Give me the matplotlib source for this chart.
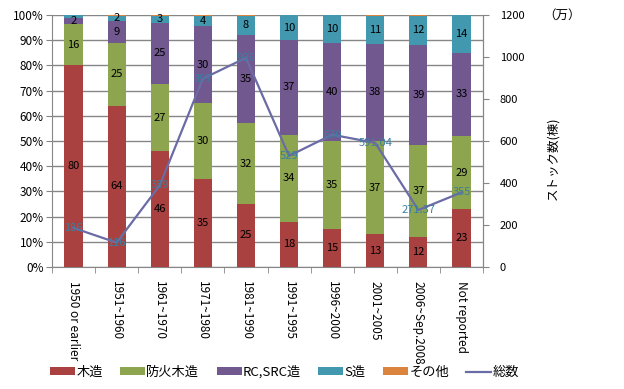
import matplotlib
matplotlib.use("Agg")
import matplotlib.pyplot as plt
import numpy as np

plt.rcParams['font.family'] = ['Noto Sans CJK JP', 'DejaVu Sans']

categories = ["1950 or earlier", "1951~1960", "1961~1970", "1971~1980", "1981~1990",
              "1991~1995", "1996~2000", "2001~2005", "2006~Sep.2008", "Not reported"]
wood = [80, 64, 46, 35, 25, 18, 15, 13, 12, 23]
fire_wood = [16.5, 25, 26.5, 30, 32, 34.5, 35, 37, 36.5, 29]
rc_src = [2.3, 8.8, 24.5, 30.5, 35, 37.5, 39, 38.5, 39.5, 33]
s_steel = [1.2, 1.9, 2.6, 4.2, 7.7, 10, 11, 11.3, 11.8, 15]
other = [0, 0.3, 0.4, 0.3, 0.3, 0, 0, 0.2, 0.2, 0]
wood_lbl = [80, 64, 46, 35, 25, 18, 15, 13, 12, 23]
fire_lbl = [16, 25, 27, 30, 32, 34, 35, 37, 37, 29]
rc_lbl = [2, 9, 25, 30, 35, 37, 40, 38, 39, 33]
s_lbl = [None, 2, 3, 4, 8, 10, 10, 11, 12, 14]
totals = [186, 116, 389, 897, 996, 529, 630, 591.04, 271.37, 355]
total_lbl = ["186", "116", "389", "897", "996", "529", "630", "591.04", "271.37", "355"]

colors = {"wood": "#A8413F", "fire": "#8DA54E", "rc": "#71588F", "s": "#4198AF", "other": "#DB843D"}
grid_c = "#868686"

fig = plt.figure(figsize=(6.24, 3.89), dpi=100)
ax = fig.add_axes([52/624, 1-267/389, (483-52)/624, (267-15)/389])
x = np.arange(len(categories))
w = 0.42

series = [(wood, wood_lbl, colors["wood"], "木造"),
          (fire_wood, fire_lbl, colors["fire"], "防火木造"),
          (rc_src, rc_lbl, colors["rc"], "RC,SRC造"),
          (s_steel, s_lbl, colors["s"], "S造"),
          (other, [None]*10, colors["other"], "その他")]
bottom = np.zeros(len(categories))
handles = []
for vals, lbls, col, name in series:
    vals = np.array(vals, dtype=float)
    b = ax.bar(x, vals, w, bottom=bottom, color=col, label=name, zorder=3)
    handles.append(b)
    for i, l in enumerate(lbls):
        if l is not None:
            ax.text(x[i], bottom[i] + vals[i]/2, str(l), ha="center", va="center",
                    fontsize=8, color="black", zorder=5)
    bottom += vals

ax.set_xlim(-0.5, len(categories)-0.5)
ax.set_ylim(0, 100)
ax.set_yticks(np.arange(0, 101, 10))
ax.set_yticklabels([f"{v}%" for v in range(0, 101, 10)], fontsize=8.5)
ax.yaxis.grid(True, color=grid_c, linewidth=1, zorder=0)
ax.set_axisbelow(True)
ax.set_xticks(x)
ax.set_xticklabels(categories, rotation=270, fontsize=8.5, va="top", ha="center")
ax.set_xticks(np.arange(-0.5, len(categories)), minor=True)
ax.tick_params(axis="x", which="major", length=0, pad=10)
ax.tick_params(axis="x", which="minor", length=4, color=grid_c)
ax.tick_params(axis="y", length=4, color=grid_c, pad=2)
ax.spines["top"].set_visible(False)
for s in ["left", "bottom", "right"]:
    ax.spines[s].set_color(grid_c)

ax2 = ax.twinx()
ax2.set_ylim(0, 1200)
ax2.set_yticks(np.arange(0, 1201, 200))
ax2.tick_params(axis="y", labelsize=8, length=4, color=grid_c, pad=8)
for s in ["top", "left", "bottom"]:
    ax2.spines[s].set_visible(False)
ax2.spines["right"].set_color(grid_c)
line, = ax2.plot(x, totals, color="#6B6BA6", linewidth=1.6, label="総数", zorder=4)
for i, t in enumerate(total_lbl):
    ax2.text(x[i], totals[i], t, ha="center", va="center", fontsize=8, color="#3B7FA0", zorder=6)
handles.append(line)

fig.text(553/624, 1-158/389, "ストック数(棟)", rotation=90, ha="center", va="center", fontsize=9)
fig.text(562/624, 1-15/389, "（万）", ha="center", va="center", fontsize=9)

fig.legend(handles, [h.get_label() for h in handles], loc="center left", ncol=6,
           bbox_to_anchor=(50/624, 1-372/389), frameon=False, fontsize=9.5,
           borderpad=0, borderaxespad=0,
           handlelength=1.9, handleheight=0.45, columnspacing=1.3, handletextpad=0.1)

fig.savefig("out.png", dpi=100)
